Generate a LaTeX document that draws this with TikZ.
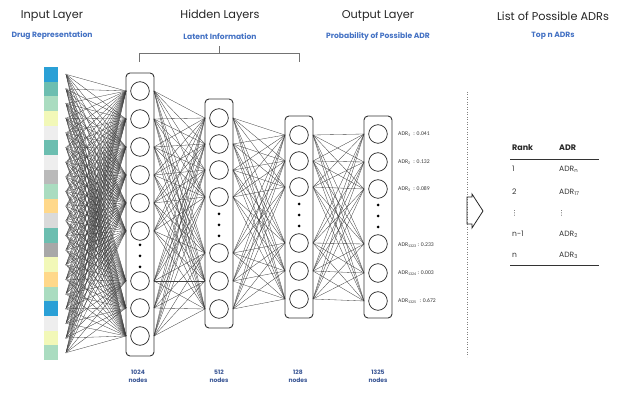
\documentclass[tikz,border=0pt]{standalone}
\usepackage{fontspec}
\setmainfont{Carlito}
\newfontfamily\titlefont{Poppins}
\newfontfamily\symfont{DejaVu Sans}
\definecolor{subblue}{RGB}{68,114,196}
\definecolor{cntblue}{RGB}{60,88,150}
\definecolor{cBlue}{RGB}{42,160,214}
\definecolor{cTeal}{RGB}{108,190,176}
\definecolor{cLGreen}{RGB}{170,220,192}
\definecolor{cYellow}{RGB}{242,248,184}
\definecolor{cVLGray}{RGB}{238,238,238}
\definecolor{cGray}{RGB}{186,186,186}
\definecolor{cDGray}{RGB}{168,168,168}
\definecolor{cLGray}{RGB}{218,218,218}
\definecolor{cOrange}{RGB}{255,216,138}
\definecolor{txtgray}{RGB}{55,55,55}
\tikzset{
  title/.style={font=\titlefont\fontsize{11.3}{13}\selectfont, text=black!85, inner sep=0pt},
  subt/.style={font=\titlefont\bfseries\fontsize{7.6}{9}\selectfont, text=subblue, inner sep=0pt},
  cnt/.style={font=\titlefont\bfseries\fontsize{6}{8}\selectfont, text=cntblue, align=center, inner sep=0pt},
  adr/.style={font=\fontsize{5.7}{7}\selectfont, text=txtgray, anchor=west, inner sep=0pt},
  tabh/.style={font=\titlefont\bfseries\fontsize{8}{9}\selectfont, text=black!85, anchor=west, inner sep=0pt},
  tabc/.style={font=\titlefont\fontsize{7.6}{9}\selectfont, text=txtgray, anchor=west, inner sep=0pt},
  tabd/.style={font=\symfont\fontsize{7}{8}\selectfont, text=txtgray, anchor=west, inner sep=0pt},
  layerbox/.style={draw=black!80, line width=0.9pt, rounded corners=4pt, minimum width=28pt, inner sep=0pt},
  neuron/.style={draw=black!85, circle, line width=0.7pt, minimum size=18.6pt, inner sep=0pt, fill=white},
  inpt/.style={circle, fill=black!55, minimum size=1.6pt, inner sep=0pt},
  conn/.style={draw=black!75, line width=0.32pt},
  tabline/.style={draw=black!80, line width=0.9pt},
}
\begin{document}
\begin{tikzpicture}[x=1pt,y=-1pt]
\useasboundingbox[fill=white] (0,0) rectangle (624,411);

% input strip
\foreach \c [count=\i] in {cBlue,cTeal,cLGreen,cYellow,cVLGray,cTeal,cVLGray,cGray,cLGreen,cOrange,cLGray,cTeal,cDGray,cYellow,cOrange,cLGreen,cBlue,cVLGray,cYellow,cLGreen}{
  \fill[\c] (44,{67+14.65*(\i-1)}) rectangle (58,{67+14.65*\i});
}
\foreach \i in {1,...,20}{
  \node[inpt] (in\i) at (66,{67+14.65*(\i-0.5)}) {};
}

% layer 1 (1024)
\foreach \y [count=\i] in {91,119,147,175,203,231,281,308,336}{
  \coordinate (aL\i) at (126,\y);
  \coordinate (aR\i) at (154,\y);
}
% layer 2 (512)
\foreach \y [count=\i] in {118,144,170,197,253,281,309}{
  \coordinate (bL\i) at (205,\y);
  \coordinate (bR\i) at (233,\y);
}
% layer 3 (128)
\foreach \y [count=\i] in {135,161,187,243,271,299}{
  \coordinate (cL\i) at (285,\y);
  \coordinate (cR\i) at (313,\y);
}
% layer 4 (1325)
\foreach \y [count=\i] in {134,162,189,244,273,301}{
  \coordinate (dL\i) at (364,\y);
  \coordinate (dR\i) at (392,\y);
}

% connections
\foreach \i in {1,...,20}{\foreach \j in {1,...,9}{\draw[conn] (in\i) -- (aL\j);}}
\foreach \i in {1,...,9}{\foreach \j in {1,...,7}{\draw[conn] (aR\i) -- (bL\j);}}
\foreach \i in {1,...,7}{\foreach \j in {1,...,6}{\draw[conn] (bR\i) -- (cL\j);}}
\foreach \i in {1,...,6}{\foreach \j in {1,...,6}{\draw[conn] (cR\i) -- (dL\j);}}

% boxes
\node[layerbox, minimum height=283pt] (box1) at (140,214.5) {};
\node[layerbox, minimum height=229pt] (box2) at (219,213.5) {};
\node[layerbox, minimum height=202pt] (box3) at (299,217) {};
\node[layerbox, minimum height=202pt] (box4) at (378,217) {};

% neurons
\foreach \y [count=\i] in {91,119,147,175,203,231,281,308,336}{\node[neuron] (n1-\i) at (140,\y) {};}
\foreach \y [count=\i] in {118,144,170,197,253,281,309}{\node[neuron] (n2-\i) at (219,\y) {};}
\foreach \y [count=\i] in {135,161,187,243,271,299}{\node[neuron] (n3-\i) at (299,\y) {};}
\foreach \y [count=\i] in {134,162,189,244,273,301}{\node[neuron] (n4-\i) at (378,\y) {};}

% dots
\foreach \y in {245,256,267}{\fill (140,\y) circle (1.5);}
\foreach \y in {214,225,236}{\fill (219,\y) circle (1.5);}
\foreach \y in {204,215,226}{\fill (299,\y) circle (1.5);}
\foreach \y in {205,216,227}{\fill (378,\y) circle (1.5);}

% titles
\node[title] (t1) at (52,16) {Input Layer};
\node[subt] (s1) at (52,36) {Drug Representation};
\node[title] (t2) at (220,16) {Hidden Layers};
\node[subt] (s2) at (220,36) {Latent Information};
\node[title] (t3) at (378,16) {Output Layer};
\node[subt] (s3) at (378,36) {Probability of Possible ADR};
\node[title] (t4) at (553,16) {List of Possible ADRs};
\node[subt] (s4) at (553,36) {Top n ADRs};

% bracket
\draw[black!55, line width=0.8pt] (139,62) -- (139,53) -- (299,53) -- (299,62);
\draw[black!55, line width=0.8pt] (219,53) -- (219,46);

% node counts
\node[cnt] (k1) at (138,376) {1024\\nodes};
\node[cnt] (k2) at (219,376) {512\\nodes};
\node[cnt] (k3) at (298,376) {128\\nodes};
\node[cnt] (k4) at (378,376) {1325\\nodes};

% ADR labels
\node[adr] (o1) at (398,134) {ADR\textsubscript{1}\enspace: 0.041};
\node[adr] (o2) at (398,162) {ADR\textsubscript{2}\enspace: 0.132};
\node[adr] (o3) at (398,189) {ADR\textsubscript{3}\enspace: 0.089};
\node[adr] (o4) at (398,245) {ADR\textsubscript{1323}\,: 0.233};
\node[adr] (o5) at (398,273) {ADR\textsubscript{1324}\,: 0.003};
\node[adr] (o6) at (398,301) {ADR\textsubscript{1325}\enspace: 0.672};

% divider
\draw[black!50, line width=0.5pt, dotted] (467,92) -- (467,357);

% arrow
\draw[black!85, line width=0.8pt, line join=miter] (467,197) -- (472,197) -- (472,194) -- (483,211) -- (472,228) -- (472,224) -- (467,224) -- cycle;

% table
\node[tabh] (r0) at (512,148) {Rank};
\node[tabh] (a0) at (559,148) {ADR};
\draw[tabline] (510,159) -- (599,159);
\node[tabc] (r1) at (512,169) {1};
\node[tabc] (a1) at (559,169) {ADR\textsubscript{n}};
\node[tabc] (r2) at (512,192) {2};
\node[tabc] (a2) at (559,192) {ADR\textsubscript{17}};
\node[tabd] (r3) at (511,213) {⋮};
\node[tabd] (a3) at (558,213) {⋮};
\node[tabc] (r4) at (512,234) {n-1};
\node[tabc] (a4) at (559,234) {ADR\textsubscript{2}};
\node[tabc] (r5) at (512,255) {n};
\node[tabc] (a5) at (559,255) {ADR\textsubscript{3}};
\draw[tabline] (510,265) -- (599,265);
\end{tikzpicture}
\end{document}
